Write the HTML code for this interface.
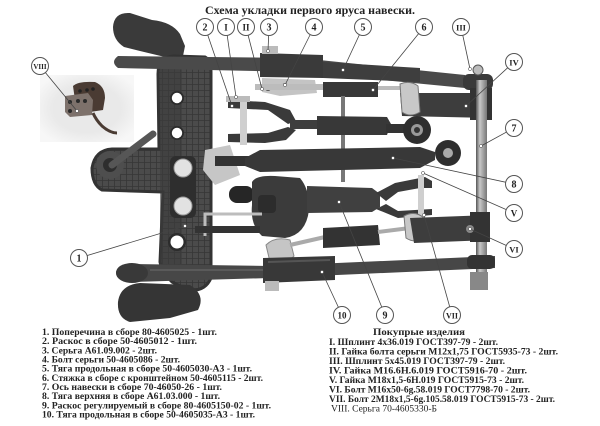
<!DOCTYPE html>
<html>
<head>
<meta charset="utf-8">
<style>
html,body{margin:0;padding:0;background:#fff;}
svg{display:block;}
.t{font-family:"Liberation Serif","Noto Serif CJK SC",serif;font-weight:bold;fill:#222;}
.ln{stroke:#444;stroke-width:0.8;fill:none;}
.cc{fill:#fff;stroke:#555;stroke-width:1;}
.cl{font-family:"Liberation Serif",serif;font-weight:bold;fill:#222;text-anchor:middle;}
</style>
</head>
<body>
<svg width="600" height="426" viewBox="0 0 600 426" xmlns="http://www.w3.org/2000/svg">
<defs>
<pattern id="grid" width="6" height="6" patternUnits="userSpaceOnUse">
<rect width="6" height="6" fill="#4b4b4b"/>
<path d="M0,0.5H6M0.5,0V6" stroke="#363636" stroke-width="0.8"/>
</pattern>
<linearGradient id="ax" x1="0" x2="1">
<stop offset="0" stop-color="#555"/><stop offset="0.35" stop-color="#c8c8c8"/><stop offset="1" stop-color="#777"/>
</linearGradient>
<radialGradient id="inset" cx="0.5" cy="0.5" r="0.6">
<stop offset="0.6" stop-color="#e9e9e9"/><stop offset="1" stop-color="#f7f7f7"/>
</radialGradient>
</defs>

<!-- Title -->
<text class="t" x="205" y="14" font-size="11.5" textLength="210" lengthAdjust="spacingAndGlyphs">Схема укладки первого яруса навески.</text>

<!-- Inset photo VIII -->
<rect x="40" y="75" width="94" height="67" fill="url(#inset)"/>
<path d="M73,86 Q78,81 95,82 Q105,86 105,98 L103,110 L90,112 L75,100 Z" fill="#4a3b33"/>
<path d="M65,96 L88,93 L93,100 L92,115 L70,117 L65,112 Z" fill="#7d716b"/>
<circle cx="80" cy="91" r="1.8" fill="#222"/><circle cx="87" cy="90" r="1.8" fill="#222"/><circle cx="93" cy="89" r="1.8" fill="#222"/>
<circle cx="70" cy="102" r="2" fill="#2a2a2a"/><circle cx="78" cy="101" r="2" fill="#2a2a2a"/><circle cx="85" cy="101" r="2" fill="#2a2a2a"/>
<circle cx="70" cy="111" r="2" fill="#2a2a2a"/>
<path d="M93,113 Q96,120 102,126 Q110,133 117,133" stroke="#4a3b33" stroke-width="3" fill="none"/>

<!-- Frame top head -->
<path d="M113,27 Q114,12 130,13 L152,20 Q172,22 180,34 L185,46 L183,56 L165,57 L140,51 L124,47 Q113,40 113,27 Z" fill="#3a3a3a"/>

<!-- Frame column -->
<path d="M158,74 Q158,57 174,56 L205,57 Q211,60 211,72 L211,278 Q205,292 188,290 L172,282 Q162,272 160,262 L163,192 L102,190 Q92,185 92,168 Q95,150 112,149 L159,149 Z" fill="url(#grid)"/>
<path d="M158,74 Q158,57 174,56 L205,57 Q211,60 211,72 L211,278 Q205,292 188,290 L172,282 Q162,272 160,262 L163,192 L102,190 Q92,185 92,168 Q95,150 112,149 L159,149 Z" fill="none" stroke="#333" stroke-width="3"/>
<rect x="160" y="62" width="22" height="215" fill="#3c3c3c" opacity="0.6"/>
<circle cx="177" cy="98" r="7" fill="#2c2c2c"/><circle cx="177" cy="98" r="5.2" fill="#fff"/>
<circle cx="177" cy="133" r="7" fill="#2c2c2c"/><circle cx="177" cy="133" r="5.2" fill="#fff"/>
<circle cx="177" cy="242" r="9" fill="#2c2c2c"/><circle cx="177" cy="242" r="6.5" fill="#fff"/>
<!-- ball eye & rod -->
<circle cx="110" cy="165" r="14" fill="#4e4e4e"/><circle cx="110" cy="165" r="7" fill="#2e2e2e"/>
<line x1="112" y1="165" x2="153" y2="134" stroke="#565656" stroke-width="7" stroke-linecap="round"/>
<!-- knobs -->
<rect x="170" y="156" width="26" height="62" rx="6" fill="#2e2e2e"/>
<circle cx="183" cy="168" r="9" fill="#e2e2e2" stroke="#999" stroke-width="1"/>
<circle cx="183" cy="206" r="9" fill="#e2e2e2" stroke="#999" stroke-width="1"/>

<!-- Upper bar -->
<path d="M118,56 L300,58 L465,75 L465,88 L300,72 L118,68 Q110,62 118,56 Z" fill="#4a4a4a"/>
<rect x="463" y="74" width="30" height="16" rx="6" fill="#3a3a3a"/>
<circle cx="478" cy="70" r="5" fill="#bbb" stroke="#555"/>
<path d="M260,53 L323,55 L323,78 L260,77 Z" fill="#3a3a3a"/>
<path d="M323,62 L420,68 L420,82 L323,78 Z" fill="#3e3e3e"/>
<rect x="262" y="46" width="16" height="8" fill="#bbb"/>
<!-- light clevis under block -->
<path d="M262,78 L315,80 L317,93 L280,96 L262,92 Z" fill="#c4c4c4"/>
<circle cx="268" cy="88" r="3" fill="#555"/><circle cx="285" cy="86" r="3" fill="#666"/>
<!-- strap IV -->
<path d="M400,93 L490,93 L490,118 L402,116 Z" fill="#3d3d3d"/>
<rect x="470" y="88" width="22" height="32" fill="#333"/>
<!-- part 6 upper -->
<rect x="255" y="84" width="70" height="6" fill="#bcbcbc"/>
<rect x="323" y="82" width="55" height="15" fill="#383838"/>
<rect x="378" y="86" width="24" height="4" fill="#bbb"/>
<path d="M400,84 Q410,80 418,86 L420,112 Q410,118 402,112 Z" fill="#c8c8c8" stroke="#777" stroke-width="1"/>

<!-- Axle 7 -->
<rect x="476" y="80" width="11" height="205" fill="url(#ax)"/>
<rect x="470" y="272" width="18" height="18" fill="#888"/>

<!-- thin vertical rod -->
<rect x="341" y="96" width="4" height="86" fill="#777"/>

<!-- Part 2 -->
<path d="M228,100 L265,102 L290,110 L296,121 L288,124 L268,110 L228,108 Z" fill="#3a3a3a"/>
<path d="M228,134 L268,133 L288,127 L296,130 L286,140 L265,143 L228,142 Z" fill="#3a3a3a"/>
<rect x="240" y="98" width="7" height="47" fill="#cfcfcf"/>
<rect x="226" y="96" width="24" height="6" fill="#bbb"/>
<rect x="290" y="120" width="30" height="9" fill="#3e3e3e"/>
<path d="M317,116 L387,117 L391,124 L387,135 L317,135 Z" fill="#383838"/>
<rect x="386" y="124" width="20" height="9" fill="#333"/>
<circle cx="417" cy="130" r="14" fill="#2e2e2e"/><circle cx="417" cy="130" r="6" fill="#999"/><circle cx="417" cy="130" r="3" fill="#333"/>

<!-- Part 8 -->
<path d="M205,150 L230,145 L240,175 L215,185 L203,170 Z" fill="#c6c6c6"/>
<rect x="215" y="156" width="36" height="10" fill="#333"/>
<path d="M245,158 L260,150 L420,147 L435,152 L435,160 L420,168 L260,172 L245,166 Z" fill="#383838"/>
<circle cx="448" cy="153" r="13" fill="#2e2e2e"/><circle cx="448" cy="153" r="5" fill="#aaa"/>

<!-- Part 9 -->
<rect x="229" y="186" width="25" height="17" rx="8" fill="#262626"/>
<path d="M252,182 Q256,175 275,176 L300,178 Q310,190 309,210 Q306,235 285,238 L262,236 Q250,225 252,205 Z" fill="#3b3b3b"/>
<rect x="258" y="195" width="18" height="18" rx="4" fill="#2c2c2c"/>
<path d="M307,186 L372,188 L380,194 L380,207 L372,212 L307,213 Z" fill="#404040"/>
<path d="M376,193 L395,183 L425,177 L432,181 L432,188 L420,188 L398,192 L386,201 Z" fill="#3a3a3a"/>
<path d="M386,204 L398,211 L432,209 L432,215 L398,218 L376,209 Z" fill="#3a3a3a"/>
<rect x="418" y="175" width="6" height="41" fill="#cfcfcf"/>
<!-- bent rod and lower rod -->
<polyline points="262,214 205,214 205,236" stroke="#bdbdbd" stroke-width="3" fill="none"/>
<rect x="195" y="226" width="65" height="7" fill="#333"/>

<!-- lower turnbuckle -->
<path d="M266,245 Q275,236 290,240 L294,256 Q285,266 270,262 Z" fill="#c5c5c5" stroke="#888" stroke-width="1"/>
<line x1="290" y1="245" x2="325" y2="237" stroke="#aaa" stroke-width="4"/>
<path d="M323,228 L378,225 L380,245 L323,248 Z" fill="#333"/>
<line x1="378" y1="232" x2="410" y2="228" stroke="#aaa" stroke-width="4"/>
<path d="M404,216 Q415,210 424,218 L426,238 Q415,244 406,238 Z" fill="#c8c8c8" stroke="#777" stroke-width="1"/>
<!-- plate VI -->
<path d="M410,218 L490,215 L490,240 L414,243 Z" fill="#3d3d3d"/>
<rect x="470" y="212" width="20" height="30" fill="#333"/>
<circle cx="470" cy="229" r="4" fill="#888"/>

<!-- lower bar -->
<path d="M116,272 Q118,263 132,264 L270,266 L495,256 L495,268 L270,278 L132,282 Q116,282 116,272 Z" fill="#474747"/>
<path d="M150,270 L265,270" stroke="#5a5a5a" stroke-width="2"/>
<ellipse cx="132" cy="273" rx="16" ry="10" fill="#393939"/>
<path d="M263,258 L335,256 L335,280 L263,283 Z" fill="#383838"/>
<path d="M268,262 L330,260" stroke="#555" stroke-width="2"/>
<rect x="265" y="281" width="14" height="10" fill="#bbb"/>
<rect x="467" y="255" width="28" height="14" rx="5" fill="#333"/>
<!-- bottom casting -->
<path d="M118,302 Q120,285 140,283 L190,285 Q206,295 198,310 L170,318 L130,322 Q117,318 118,302 Z" fill="#353535"/>

<!-- Leader lines -->
<g class="ln">
<line x1="205" y1="27" x2="232" y2="106"/>
<line x1="226" y1="27" x2="236" y2="97"/>
<line x1="246" y1="27" x2="262" y2="89"/>
<line x1="269" y1="27" x2="268" y2="51"/>
<line x1="314" y1="27" x2="285" y2="85"/>
<line x1="363" y1="27" x2="343" y2="70"/>
<line x1="424" y1="27" x2="373" y2="90"/>
<line x1="461" y1="27" x2="470" y2="69"/>
<line x1="514" y1="62" x2="466" y2="106"/>
<line x1="514" y1="128" x2="481" y2="146"/>
<line x1="514" y1="184" x2="393" y2="158"/>
<line x1="514" y1="213" x2="423" y2="173"/>
<line x1="514" y1="249" x2="470" y2="229"/>
<line x1="342" y1="315" x2="322" y2="272"/>
<line x1="385" y1="315" x2="339" y2="202"/>
<line x1="452" y1="315" x2="424" y2="215"/>
<line x1="79" y1="258" x2="185" y2="226"/>
<line x1="40" y1="66" x2="77" y2="111"/>
</g>
<g fill="#fff" stroke="#333" stroke-width="0.5">
<circle cx="232" cy="106" r="1.6"/><circle cx="236" cy="97" r="1.6"/><circle cx="262" cy="89" r="1.6"/>
<circle cx="268" cy="51" r="1.6"/><circle cx="285" cy="85" r="1.6"/><circle cx="343" cy="70" r="1.6"/>
<circle cx="373" cy="90" r="1.6"/><circle cx="470" cy="69" r="1.6"/><circle cx="466" cy="106" r="1.6"/>
<circle cx="481" cy="146" r="1.6"/><circle cx="393" cy="158" r="1.6"/><circle cx="423" cy="173" r="1.6"/>
<circle cx="470" cy="229" r="1.6"/><circle cx="322" cy="272" r="1.6"/><circle cx="339" cy="202" r="1.6"/>
<circle cx="424" cy="215" r="1.6"/><circle cx="185" cy="226" r="1.6"/><circle cx="77" cy="111" r="1.6"/>
</g>

<!-- Callout circles -->
<g>
<circle class="cc" cx="205" cy="27" r="8.5"/><text class="cl" x="205" y="30.5" font-size="10">2</text>
<circle class="cc" cx="226" cy="27" r="8.5"/><text class="cl" x="226" y="30.5" font-size="9">I</text>
<circle class="cc" cx="246" cy="27" r="8.5"/><text class="cl" x="246" y="30.5" font-size="9">II</text>
<circle class="cc" cx="269" cy="27" r="8.5"/><text class="cl" x="269" y="30.5" font-size="10">3</text>
<circle class="cc" cx="314" cy="27" r="8.5"/><text class="cl" x="314" y="30.5" font-size="10">4</text>
<circle class="cc" cx="363" cy="27" r="8.5"/><text class="cl" x="363" y="30.5" font-size="10">5</text>
<circle class="cc" cx="424" cy="27" r="8.5"/><text class="cl" x="424" y="30.5" font-size="10">6</text>
<circle class="cc" cx="461" cy="27" r="8.5"/><text class="cl" x="461" y="30.5" font-size="8.5">III</text>
<circle class="cc" cx="514" cy="62" r="8.5"/><text class="cl" x="514" y="65.5" font-size="8.5">IV</text>
<circle class="cc" cx="514" cy="128" r="8.5"/><text class="cl" x="514" y="131.5" font-size="10">7</text>
<circle class="cc" cx="514" cy="184" r="8.5"/><text class="cl" x="514" y="187.5" font-size="10">8</text>
<circle class="cc" cx="514" cy="213" r="8.5"/><text class="cl" x="514" y="216.5" font-size="9">V</text>
<circle class="cc" cx="514" cy="249" r="8.5"/><text class="cl" x="514" y="252.5" font-size="8.5">VI</text>
<circle class="cc" cx="342" cy="315" r="8.5"/><text class="cl" x="342" y="318.5" font-size="9">10</text>
<circle class="cc" cx="385" cy="315" r="8.5"/><text class="cl" x="385" y="318.5" font-size="10">9</text>
<circle class="cc" cx="452" cy="315" r="8.5"/><text class="cl" x="452" y="318.5" font-size="8">VII</text>
<circle class="cc" cx="79" cy="258" r="8.5"/><text class="cl" x="79" y="261.5" font-size="10">1</text>
<circle class="cc" cx="40" cy="66" r="8.5"/><text class="cl" x="40" y="69" font-size="7">VIII</text>
</g>

<!-- Left list -->
<g class="t" font-size="9">
<text x="42" y="335" textLength="175" lengthAdjust="spacingAndGlyphs">1. Поперечина в сборе 80-4605025 - 1шт.</text>
<text x="42" y="344.2" textLength="155" lengthAdjust="spacingAndGlyphs">2. Раскос в сборе 50-4605012 - 1шт.</text>
<text x="42" y="353.3" textLength="115" lengthAdjust="spacingAndGlyphs">3. Серьга А61.09.002 - 2шт.</text>
<text x="42" y="362.5" textLength="138" lengthAdjust="spacingAndGlyphs">4. Болт серьги 50-4605086 - 2шт.</text>
<text x="42" y="371.6" textLength="210" lengthAdjust="spacingAndGlyphs">5. Тяга продольная в сборе 50-4605030-А3 - 1шт.</text>
<text x="42" y="380.8" textLength="221" lengthAdjust="spacingAndGlyphs">6. Стяжка в сборе с кронштейном 50-4605115 - 2шт.</text>
<text x="42" y="390" textLength="180" lengthAdjust="spacingAndGlyphs">7. Ось навески в сборе 70-46050-26 - 1шт.</text>
<text x="42" y="399.1" textLength="178" lengthAdjust="spacingAndGlyphs">8. Тяга верхняя в сборе А61.03.000 - 1шт.</text>
<text x="42" y="408.3" textLength="229" lengthAdjust="spacingAndGlyphs">9. Раскос регулируемый в сборе 80-4605150-02 - 1шт.</text>
<text x="42" y="417.4" textLength="213" lengthAdjust="spacingAndGlyphs">10. Тяга продольная в сборе 50-4605035-А3 - 1шт.</text>
</g>

<!-- Right list -->
<g class="t" font-size="9">
<text x="373" y="335" textLength="92" lengthAdjust="spacingAndGlyphs">Покупрые изделия</text>
<text x="329" y="345" textLength="169" lengthAdjust="spacingAndGlyphs">I. Шплинт 4x36.019 ГОСТ397-79 - 2шт.</text>
<text x="329" y="354.5" textLength="229" lengthAdjust="spacingAndGlyphs">II. Гайка болта серьги M12x1,75 ГОСТ5935-73 - 2шт.</text>
<text x="329" y="364" textLength="176" lengthAdjust="spacingAndGlyphs">III. Шплинт 5x45.019 ГОСТ397-79 - 2шт.</text>
<text x="329" y="373.5" textLength="198" lengthAdjust="spacingAndGlyphs">IV. Гайка M16.6H.6.019 ГОСТ5916-70 - 2шт.</text>
<text x="329" y="383" textLength="195" lengthAdjust="spacingAndGlyphs">V. Гайка M18x1,5-6H.019 ГОСТ5915-73 - 2шт.</text>
<text x="329" y="392.5" textLength="201" lengthAdjust="spacingAndGlyphs">VI. Болт M16x50-6g.58.019 ГОСТ7798-70 - 2шт.</text>
<text x="329" y="402" textLength="226" lengthAdjust="spacingAndGlyphs">VII. Болт 2M18x1,5-6g.105.58.019 ГОСТ5915-73 - 2шт.</text>
<text x="331" y="411.5" textLength="106" lengthAdjust="spacingAndGlyphs" font-weight="normal">VIII. Серьга 70-4605330-Б</text>
</g>
</svg>
</body>
</html>
